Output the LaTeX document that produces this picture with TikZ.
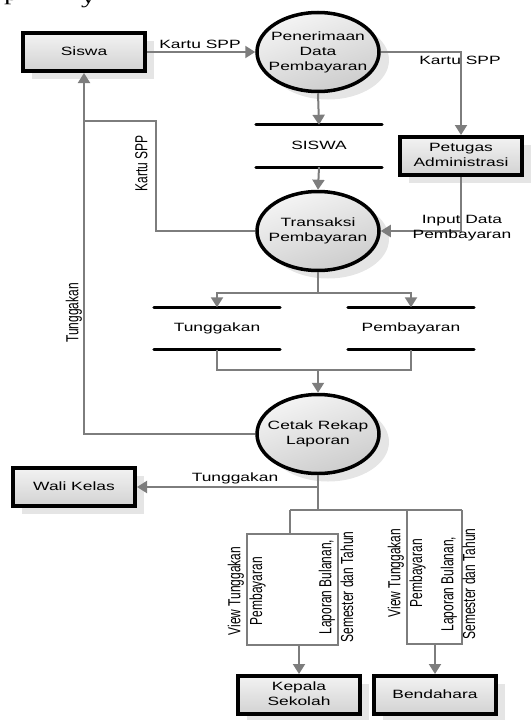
\documentclass[tikz,border=0pt]{standalone}
\usepackage{fontspec}
\setmainfont{Liberation Sans}
\newfontfamily\serifx{Liberation Serif}
\usetikzlibrary{arrows.meta,shapes.geometric,shadows}
\definecolor{flowgray}{RGB}{125,125,125}
\newcommand{\hs}[1]{\scalebox{1.45}[1]{\begin{tabular}{@{}c@{}}#1\end{tabular}}}
\newcommand{\vs}[1]{\rotatebox{90}{\scalebox{1}[1.45]{\begin{tabular}{@{}c@{}}#1\end{tabular}}}}
\begin{document}
\begin{tikzpicture}[x=1pt,y=-1pt,
  every node/.style={font=\fontsize{12}{15}\selectfont, inner sep=0pt},
  flow/.style={draw=flowgray, line width=2pt},
  arr/.style={flow, -{Triangle[width=12pt,length=10pt]}},
  entbox/.style={draw=black, line width=4pt, minimum width=122pt, minimum height=38pt,
    top color=gray!10, bottom color=gray!35,
    drop shadow={shadow xshift=9pt, shadow yshift=-8pt, fill=gray!20, opacity=1}},
  proc/.style={ellipse, draw=black, line width=3.5pt, minimum width=122pt, minimum height=79pt,
    top color=gray!8, bottom color=gray!40, shading angle=20,
    drop shadow={shadow xshift=10pt, shadow yshift=-8pt, fill=gray!20, opacity=1}},
  store/.style={minimum width=126pt, minimum height=42pt},
  storeline/.style={draw=black, line width=3pt, line cap=round},
]
\useasboundingbox (0,0) rectangle (531,720);

% fragment of text above the picture
\node[font=\serifx\fontsize{20}{20}\selectfont, anchor=base west] (fragp) at (4,0.5) {\scalebox{1.45}[1]{p}};
\node[font=\serifx\fontsize{20}{20}\selectfont, anchor=base west] (fragy) at (81,4) {\scalebox{1.45}[1]{y}};

% entities
\node[entbox] (siswa) at (84,52) {\hs{Siswa}};
\node[entbox] (pet) at (461,156) {\hs{Petugas\\Administrasi}};
\node[entbox] (wali) at (74,487) {\hs{Wali Kelas}};
\node[entbox] (kep) at (299,695) {\hs{Kepala\\Sekolah}};
\node[entbox] (ben) at (435,695) {\hs{Bendahara}};

% processes
\node[proc] (pen) at (318,52) {};
\node (pent) at (pen) {\hs{Penerimaan\\Data\\Pembayaran}};
\node[proc] (trx) at (318,231) {};
\node (trxt) at (trx) {\hs{Transaksi\\Pembayaran}};
\node[proc] (ctk) at (318,434) {};
\node (ctkt) at (ctk) {\hs{Cetak Rekap\\Laporan}};

% data stores
\node[store] (sis) at (319,146) {\hs{SISWA}};
\node[store] (tung) at (217,328.5) {\hs{Tunggakan}};
\node[store] (pemb) at (411,328.5) {\hs{Pembayaran}};
\foreach \s in {sis,tung,pemb}{
  \draw[storeline] (\s.north west) -- (\s.north east);
  \draw[storeline] (\s.south west) -- (\s.south east);
}

% flows
\draw[arr] (siswa.east) -- (pen.west);
\node (l1) at (200,45) {\hs{Kartu SPP}};

\draw[arr] (pen.east) -| (pet.north);
\node (l2) at (460,61) {\hs{Kartu SPP}};

\draw[arr] (pen.south) -- (sis.north);
\draw[arr] (sis.south) -- (trx.north);

\draw[arr] (pet.south) |- (trx.east);
\node (l3) at (462,228) {\hs{Input Data\\Pembayaran}};

\coordinate (kbend) at (156,121);
\coordinate (kjoin) at (84,121);
\draw[flow] (trx.west) -| (kbend) -- (kjoin);
\node (l4) at (143,163) {\vs{Kartu SPP}};

\draw[arr] (ctk.west) -| (siswa.south);
\node (l5) at (74,313) {\vs{Tunggakan}};

\coordinate (tb) at (318,293);
\draw[flow] (trx.south) -- (tb);
\draw[arr] (tb) -| (tung.north);
\draw[arr] (tb) -| (pemb.north);

\coordinate (mb) at (318,370);
\draw[flow] (tung.south) |- (mb) -| (pemb.south);
\draw[arr] (mb) -- (ctk.north);

\coordinate (wb) at (318,487);
\draw[arr] (wb) -- (wali.east);
\node (l6) at (235,478) {\hs{Tunggakan}};

\coordinate (hb) at (318,510);
\coordinate (hl) at (290,510);
\coordinate (hr) at (462,510);
\draw[flow] (ctk.south) -- (hb);
\draw[flow] (hl) -- (hr);

% left group
\coordinate (lt) at (290,534);
\coordinate (lgl) at (247,534);
\coordinate (lbr) at (338,645);
\draw[flow] (hl) -- (lt);
\draw[flow] (lgl) rectangle (lbr);
\coordinate (lb) at (kep.north |- lbr);
\draw[arr] (lb) -- (kep.north);
\node (lv1) at (247,591) {\vs{View Tunggakan\\Pembayaran}};
\node (lv2) at (338,587) {\vs{Laporan Bulanan,\\Semester dan Tahun}};

% right group
\coordinate (rtl) at (407,510);
\coordinate (rbl) at (407,644);
\coordinate (rbr) at (462,644);
\draw[flow] (rtl) -- (rbl) -- (rbr) -- (hr);
\coordinate (rb) at (ben.north |- rbl);
\draw[arr] (rb) -- (ben.north);
\node (rv1) at (407,573) {\vs{View Tunggakan\\Pembayaran}};
\node (rv2) at (460,584) {\vs{Laporan Bulanan,\\Semester dan Tahun}};
\end{tikzpicture}
\end{document}
